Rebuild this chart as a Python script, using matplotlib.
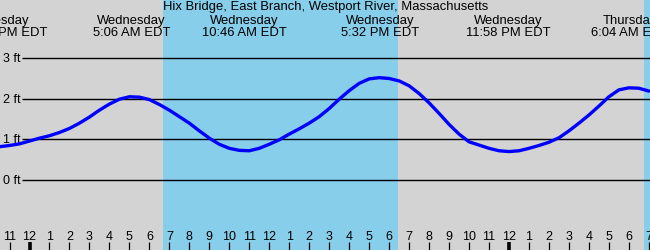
import numpy as np
from matplotlib import pyplot as plt

# tide height (ft), read every half hour, hours from midnight Wednesday
hours = np.arange(-1.5, 31.01, 0.5)
height = [0.82, 0.85, 0.89, 0.96, 1.03, 1.09, 1.17, 1.27, 1.40, 1.55,
          1.72, 1.87, 1.99, 2.05, 2.04, 1.98, 1.86, 1.72, 1.56, 1.40,
          1.21, 1.03, 0.88, 0.78, 0.73, 0.72, 0.78, 0.88, 0.99, 1.13,
          1.26, 1.40, 1.56, 1.76, 1.99, 2.20, 2.38, 2.49, 2.52, 2.50,
          2.44, 2.32, 2.13, 1.90, 1.64, 1.37, 1.13, 0.94, 0.86, 0.78,
          0.72, 0.70, 0.72, 0.78, 0.85, 0.93, 1.04, 1.21, 1.40, 1.60,
          1.82, 2.05, 2.22, 2.27, 2.26, 2.19]

# daylight intervals (hours)
day_start = [6.68, 30.76]
day_end = [18.46, 40.0]

# high / low tide events
event_hours = [-1.25, 5.1, 10.767, 17.533, 23.967, 30.067]
event_days = ['Tuesday', 'Wednesday', 'Wednesday', 'Wednesday', 'Wednesday', 'Thursday']
event_times = ['10:45 PM EDT', '5:06 AM EDT', '10:46 AM EDT', '5:32 PM EDT',
               '11:58 PM EDT', '6:04 AM EDT']

ft_levels = [0, 1, 2, 3]
hour_ticks = np.arange(-1, 32)

title = 'Hix Bridge, East Branch, Westport River, Massachusetts'

plt.rcParams['font.family'] = ['Liberation Sans', 'DejaVu Sans']

fig = plt.figure(figsize=(6.5, 2.5), dpi=100)
ax = fig.add_axes([0, 0, 1, 1])
ax.set_facecolor('#d3d3d3')
ax.set_xlim(-1.4765, 31.056)
ax.set_ylim(-1.724, 4.433)
ax.axis('off')
fig.patch.set_facecolor('#d3d3d3')

for a, b in zip(day_start, day_end):
    ax.axvspan(a, b, color='#87ceeb', lw=0, zorder=0)

for lv in ft_levels:
    ax.hlines(lv, -0.375, 32, color='black', lw=1.0, zorder=1)
    ax.text(-0.45, lv - 0.1, f'{lv} ft', ha='right', va='baseline', fontsize=9)

ax.plot(hours, height, color='#0000ff', lw=2.4, zorder=3, solid_capstyle='round')

for h in hour_ticks:
    lbl = str(h % 12 or 12)
    ax.text(h, -1.478, lbl, ha='center', va='baseline', fontsize=9)
    bold = (h % 24 == 0)
    ax.vlines(h, -1.8, -1.527, color='black', lw=2.6 if bold else 0.9)

for h, d, t in zip(event_hours, event_days, event_times):
    ax.text(h, 3.842, d, ha='center', va='baseline', fontsize=9.4)
    ax.text(h, 3.547, t, ha='center', va='baseline', fontsize=9.4)

ax.text(14.8, 4.175, title, ha='center', va='baseline', fontsize=9.4)

plt.savefig('out.png', dpi=100, facecolor=fig.get_facecolor())
